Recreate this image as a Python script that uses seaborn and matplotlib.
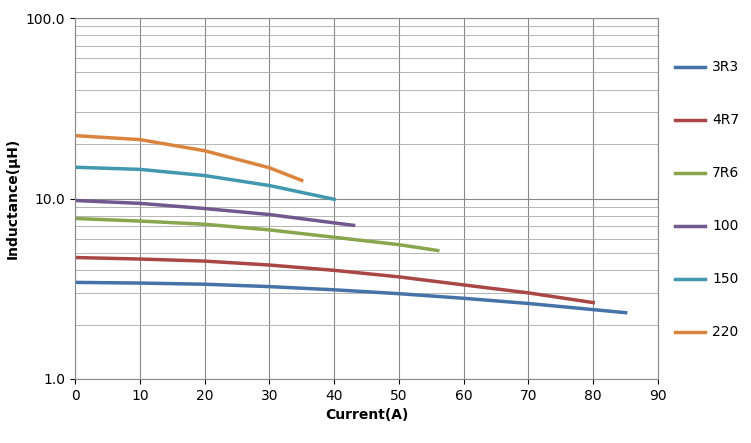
import matplotlib
matplotlib.use("Agg")
import matplotlib.pyplot as plt
import seaborn as sns
import pandas as pd
import numpy as np
from matplotlib.ticker import FixedLocator, LogLocator, NullFormatter

names = ["3R3", "4R7", "7R6", "100", "150", "220"]
colors = ["#4572A7", "#AA4643", "#89A54E", "#71588F", "#4198AF", "#DB843D"]
x_3R3 = [0, 10, 20, 30, 40, 50, 60, 70, 85]
y_3R3 = [3.43, 3.4, 3.35, 3.25, 3.12, 2.97, 2.8, 2.62, 2.33]
x_4R7 = [0, 10, 20, 30, 40, 50, 60, 70, 80]
y_4R7 = [4.71, 4.62, 4.5, 4.28, 4.0, 3.68, 3.32, 3.0, 2.65]
x_7R6 = [0, 10, 20, 30, 40, 50, 56]
y_7R6 = [7.75, 7.5, 7.2, 6.7, 6.1, 5.55, 5.15]
x_100 = [0, 10, 20, 30, 43]
y_100 = [9.75, 9.4, 8.8, 8.15, 7.1]
x_150 = [0, 10, 20, 30, 40]
y_150 = [14.9, 14.5, 13.4, 11.8, 9.9]
x_220 = [0, 10, 20, 30, 35]
y_220 = [22.3, 21.2, 18.4, 14.8, 12.6]

xs = [x_3R3, x_4R7, x_7R6, x_100, x_150, x_220]
ys = [y_3R3, y_4R7, y_7R6, y_100, y_150, y_220]
df = pd.concat([pd.DataFrame({"x": x, "y": y, "s": n}) for x, y, n in zip(xs, ys, names)])

fig = plt.figure(figsize=(7.51, 4.43), dpi=100)
ax = fig.add_axes([75/751, 64/443, 583/751, 361/443])
sns.lineplot(data=df, x="x", y="y", hue="s", palette=colors, hue_order=names, lw=2.5, ax=ax, legend=False)
ax.set_yscale("log")
ax.set_xlim(0, 90)
ax.set_ylim(1, 100)
ax.set_xticks(range(0, 91, 10))
ax.yaxis.set_major_locator(FixedLocator([1, 10, 100]))
ax.set_yticklabels(["1.0", "10.0", "100.0"])
ax.yaxis.set_minor_locator(LogLocator(subs=np.arange(2, 10)))
ax.yaxis.set_minor_formatter(NullFormatter())
ax.grid(True, which="major", color="#888888", lw=0.8)
ax.grid(True, which="minor", axis="y", color="#AAAAAA", lw=0.6)
ax.tick_params(which="minor", length=0)
ax.tick_params(labelsize=10)
for s in ax.spines.values():
    s.set_color("#888888")
ax.set_xlabel("Current(A)", fontweight="bold", fontsize=10)
ax.set_ylabel("Inductance(μH)", fontweight="bold", fontsize=10)
for i, (n, c) in enumerate(zip(names, colors)):
    yy = 1 - (67 + i * 53) / 443
    fig.add_artist(plt.Line2D([675/751, 705/751], [yy, yy], color=c, lw=2.5))
    fig.text(712/751, yy, n, va="center", fontsize=10)
fig.savefig("out.png")
